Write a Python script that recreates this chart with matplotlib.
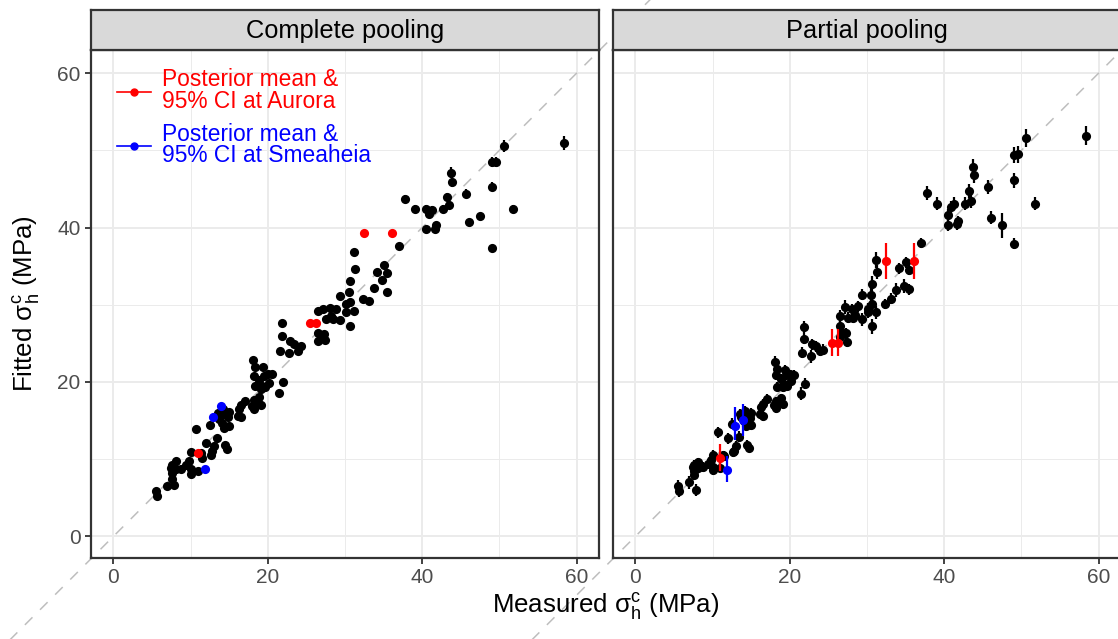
import matplotlib
matplotlib.use("Agg")
import matplotlib.pyplot as plt
from matplotlib.lines import Line2D
import numpy as np

plt.rcParams["font.family"] = ["Liberation Sans", "DejaVu Sans"]
plt.rcParams["mathtext.fontset"] = "custom"
plt.rcParams["mathtext.rm"] = "Liberation Sans"
plt.rcParams["mathtext.it"] = "Liberation Sans"

# measured vs fitted sigma_h^c (MPa), all other sites
measured = [58.4, 50.6, 49.1, 49.6, 43.7, 43.8, 49.0, 45.7, 37.8, 43.2,
            43.5, 42.7, 39.1, 40.5, 41.3, 40.9, 51.8, 47.5, 46.1, 40.5,
            41.6, 41.8, 49.1, 37.0, 31.2, 31.3, 35.0, 34.2, 35.5, 34.8,
            30.7, 33.8, 35.5, 30.5, 29.3, 32.3, 33.1, 30.7, 30.1, 28.8,
            28.0, 27.1, 26.5, 31.2, 30.1, 28.2, 27.5, 29.4, 28.5, 30.6,
            21.8, 26.5, 27.3, 26.5, 27.4, 26.9, 21.8, 22.9, 23.4, 24.3,
            23.9, 22.7, 21.6, 18.1, 18.4, 19.4, 20.0, 20.6, 19.5, 18.9,
            20.2, 19.3, 18.2, 18.4, 19.7, 19.1, 22.0, 21.5, 17.1, 16.5,
            16.3, 16.1, 16.5, 18.9, 18.2, 18.7, 19.1, 18.0, 18.2, 15.0,
            14.3, 13.7, 14.8, 14.1, 15.0, 14.3, 13.5, 14.2, 12.5, 10.7,
            13.4, 12.0, 13.0, 12.8, 12.6, 14.5, 14.7, 10.0, 11.3, 11.5,
            9.8, 9.4, 8.1, 7.6, 7.4, 8.1, 8.7, 10.0, 7.6, 10.0,
            10.9, 7.6, 7.0, 7.8, 5.5, 5.6]
fitted_complete = [50.9, 50.6, 48.5, 48.5, 47.1, 45.9, 45.3, 44.4, 43.7, 44.0,
                   42.9, 42.4, 42.4, 42.4, 42.3, 41.7, 42.4, 41.5, 40.7, 39.8,
                   39.8, 40.3, 37.4, 37.6, 36.8, 34.6, 35.1, 34.3, 34.1, 33.2,
                   33.1, 32.2, 31.7, 31.6, 31.1, 30.7, 30.5, 30.3, 30.1, 29.5,
                   29.6, 29.5, 29.2, 29.2, 29.1, 28.6, 28.1, 28.0, 28.2, 27.3,
                   27.6, 26.4, 26.2, 25.3, 25.4, 25.9, 26.0, 25.3, 24.9, 24.7,
                   24.0, 23.7, 24.0, 22.8, 21.9, 21.9, 21.0, 21.0, 20.8, 20.3,
                   19.9, 19.5, 20.8, 19.5, 19.3, 19.1, 20.0, 18.6, 17.6, 17.0,
                   16.5, 15.6, 15.4, 18.0, 17.7, 17.3, 17.0, 16.9, 16.5, 16.1,
                   15.8, 15.2, 15.4, 14.7, 14.3, 14.1, 16.0, 16.5, 14.4, 13.9,
                   12.7, 12.1, 11.7, 11.0, 10.6, 11.8, 11.3, 10.9, 10.8, 10.2,
                   9.8, 9.3, 9.8, 9.3, 8.9, 8.7, 8.7, 8.7, 8.2, 8.1,
                   8.5, 7.4, 6.5, 6.7, 5.9, 5.2]
err_complete = [0.9, 0.8, 0.7, 0.7, 0.7, 0.6, 0.6, 0.6, 0.5, 0.5,
                0.5, 0.5, 0.5, 0.5, 0.5, 0.5, 0.5, 0.4, 0.4, 0.4,
                0.4, 0.4, 0.4, 0.3, 0.3, 0.3, 0.3, 0.3, 0.3, 0.3,
                0.3, 0.3, 0.3, 0.3, 0.3, 0.3, 0.3, 0.3, 0.3, 0.3,
                0.3, 0.3, 0.3, 0.3, 0.3, 0.3, 0.3, 0.3, 0.3, 0.3,
                0.3, 0.3, 0.3, 0.3, 0.3, 0.3, 0.3, 0.3, 0.3, 0.3,
                0.3, 0.3, 0.3, 0.3, 0.3, 0.3, 0.3, 0.3, 0.3, 0.3,
                0.3, 0.3, 0.3, 0.3, 0.3, 0.3, 0.3, 0.3, 0.3, 0.3,
                0.3, 0.3, 0.3, 0.3, 0.3, 0.3, 0.3, 0.3, 0.3, 0.3,
                0.3, 0.3, 0.3, 0.3, 0.3, 0.3, 0.3, 0.3, 0.3, 0.3,
                0.3, 0.3, 0.3, 0.3, 0.3, 0.3, 0.3, 0.3, 0.3, 0.3,
                0.3, 0.3, 0.3, 0.3, 0.3, 0.3, 0.3, 0.3, 0.3, 0.3,
                0.3, 0.3, 0.3, 0.3, 0.3, 0.3]
fitted_partial = [51.9, 51.6, 49.4, 49.5, 47.9, 46.8, 46.1, 45.2, 44.5, 44.7,
                  43.4, 43.1, 43.1, 41.6, 43.1, 42.6, 43.1, 40.3, 41.3, 40.3,
                  40.4, 40.8, 37.9, 38.0, 35.8, 34.2, 35.5, 34.7, 34.5, 32.4,
                  32.7, 31.9, 32.0, 31.3, 31.3, 30.1, 30.8, 30.1, 29.4, 29.8,
                  29.4, 29.7, 28.5, 29.0, 29.0, 28.3, 28.3, 28.1, 28.7, 27.2,
                  27.1, 27.2, 26.3, 25.8, 25.2, 26.3, 25.6, 24.9, 24.6, 24.2,
                  24.0, 23.3, 23.8, 22.6, 21.7, 21.6, 21.0, 20.9, 20.9, 20.4,
                  20.1, 19.7, 20.9, 19.4, 19.5, 19.3, 19.8, 18.5, 17.8, 17.2,
                  16.8, 15.9, 15.6, 17.9, 17.5, 17.4, 17.1, 17.0, 16.6, 16.0,
                  15.6, 15.4, 15.3, 14.9, 14.4, 14.3, 15.9, 16.3, 14.6, 13.5,
                  12.9, 12.7, 11.7, 11.1, 10.9, 11.9, 11.5, 10.6, 10.5, 10.4,
                  9.9, 9.4, 9.6, 9.3, 9.0, 8.9, 9.0, 9.0, 8.5, 8.6,
                  8.9, 7.9, 7.0, 6.0, 6.5, 5.9]
err_partial = [1.2, 1.2, 1.1, 1.1, 1.0, 1.0, 1.0, 0.9, 0.9, 0.9,
               0.9, 0.8, 0.8, 0.8, 0.8, 0.8, 0.8, 1.6, 0.8, 0.7,
               0.7, 0.7, 0.7, 0.7, 1.0, 0.9, 0.7, 0.7, 0.7, 0.9,
               1.0, 0.9, 0.7, 0.9, 0.7, 0.7, 0.7, 1.0, 0.8, 0.7,
               0.7, 0.9, 0.8, 0.9, 0.7, 0.7, 0.7, 0.8, 0.7, 1.0,
               0.8, 0.8, 0.7, 0.7, 0.7, 0.7, 0.7, 0.7, 0.7, 0.7,
               0.7, 0.8, 0.7, 0.7, 0.6, 0.6, 0.6, 0.6, 0.6, 0.6,
               0.6, 0.6, 0.6, 0.6, 0.6, 0.6, 0.7, 0.8, 0.6, 0.6,
               0.6, 0.7, 0.6, 0.6, 0.6, 0.6, 0.6, 0.6, 0.6, 0.6,
               0.6, 0.6, 0.6, 0.6, 0.6, 0.6, 0.6, 0.6, 0.7, 0.7,
               0.7, 0.7, 0.6, 0.6, 0.6, 0.6, 0.6, 0.6, 0.6, 0.6,
               0.6, 0.6, 0.6, 0.6, 0.6, 0.6, 0.6, 0.6, 0.6, 0.6,
               0.6, 0.6, 0.8, 0.8, 0.8, 0.8]

# Aurora
aurora_measured = [32.5, 36.1, 25.5, 26.3, 10.9]
aurora_complete = [39.3, 39.3, 27.6, 27.6, 10.8]
aurora_partial = [35.7, 35.7, 25.1, 25.1, 10.2]
aurora_partial_lo = [33.3, 33.3, 23.4, 23.4, 8.5]
aurora_partial_hi = [38.0, 38.0, 26.8, 26.8, 12.0]

# Smeaheia
smeaheia_measured = [13.9, 12.9, 11.9]
smeaheia_complete = [16.9, 15.4, 8.7]
smeaheia_partial = [15.1, 14.3, 8.6]
smeaheia_partial_lo = [13.0, 12.5, 7.0]
smeaheia_partial_hi = [17.1, 16.8, 10.4]

panel_titles = ["Complete pooling", "Partial pooling"]
ticks = [0, 20, 40, 60]

W, H = 1118, 639
fig = plt.figure(figsize=(W / 100, H / 100), dpi=100)
fig.patch.set_facecolor("white")

panel_w = 508 / W
panel_h = 508 / H
bottom = (H - 558) / H
lefts = [91 / W, 613 / W]
strip_h = 40 / H

axes = []
for left in lefts:
    axes.append(fig.add_axes([left, bottom, panel_w, panel_h]))

panels = [
    (fitted_complete, err_complete, aurora_complete, None, None,
     smeaheia_complete, None, None),
    (fitted_partial, err_partial, aurora_partial, aurora_partial_lo, aurora_partial_hi,
     smeaheia_partial, smeaheia_partial_lo, smeaheia_partial_hi),
]

for i, (ax, p) in enumerate(zip(axes, panels)):
    fit, err, a_fit, a_lo, a_hi, s_fit, s_lo, s_hi = p
    ax.set_xlim(-2.9, 62.9)
    ax.set_ylim(-2.8, 63.0)
    ax.set_xticks(ticks)
    ax.set_yticks(ticks)
    ax.set_xticks([10, 30, 50], minor=True)
    ax.set_yticks([10, 30, 50], minor=True)
    ax.grid(True, which="major", color="#EBEBEB", lw=1.4, zorder=0)
    ax.grid(True, which="minor", color="#EBEBEB", lw=0.7, zorder=0)
    ax.set_axisbelow(True)
    ax.tick_params(which="minor", length=0)
    ax.tick_params(which="major", length=4.5, width=1.3, color="#333333",
                   labelsize=15, labelcolor="#4D4D4D", pad=3)
    for s in ax.spines.values():
        s.set_color("#333333")
        s.set_linewidth(1.6)
        s.set_zorder(5)

    # 1:1 line, extends beyond the panel
    ax.plot([-20, 80], [-20, 80], color="#BEBEBE", lw=1.1, dashes=(7, 7),
            clip_on=False, zorder=1)

    ax.errorbar(measured, fit, yerr=err, fmt="o", color="black", ms=6.6,
                mew=0, elinewidth=1.6, capsize=0, zorder=3)
    if a_lo is None:
        a_err = None
        s_err = None
    else:
        a_err = [np.subtract(a_fit, a_lo), np.subtract(a_hi, a_fit)]
        s_err = [np.subtract(s_fit, s_lo), np.subtract(s_hi, s_fit)]
    ax.errorbar(aurora_measured, a_fit, yerr=a_err, fmt="o", color="red", ms=6.6,
                mew=0, elinewidth=1.6, capsize=0, zorder=4)
    ax.errorbar(smeaheia_measured, s_fit, yerr=s_err, fmt="o", color="blue", ms=6.6,
                mew=0, elinewidth=1.6, capsize=0, zorder=4)

    if i == 1:
        ax.tick_params(axis="y", left=False, labelleft=False)

    # facet strip
    sax = fig.add_axes([lefts[i], bottom + panel_h, panel_w, strip_h])
    sax.set_facecolor("#D9D9D9")
    sax.set_xticks([])
    sax.set_yticks([])
    for s in sax.spines.values():
        s.set_color("#333333")
        s.set_linewidth(1.6)
    sax.text(0.5, 0.47, panel_titles[i], transform=sax.transAxes,
             ha="center", va="center", fontsize=18.3, color="black")

handles = [
    Line2D([], [], color="red", marker="o", ms=5, lw=1.2),
    Line2D([], [], color="blue", marker="o", ms=5, lw=1.2),
]
labels = ["Posterior mean &\n95% CI at Aurora",
          "Posterior mean &\n95% CI at Smeaheia"]
leg = axes[0].legend(handles, labels, loc="upper left",
                     bbox_to_anchor=(0.02, 0.995), frameon=False,
                     fontsize=16.4, handlelength=1.5, handletextpad=0.45,
                     labelspacing=0.45, borderpad=0.2, labelcolor="linecolor")
for t in leg.get_texts():
    t.set_linespacing(0.9)

fig.text(606 / W, (H - 607) / H, r"Measured $\mathregular{\sigma_h^c}$ (MPa)",
         ha="center", va="center", fontsize=18.6)
fig.text(27 / W, (H - 304) / H, r"Fitted $\mathregular{\sigma_h^c}$ (MPa)",
         ha="center", va="center", rotation=90, fontsize=18.6)

fig.savefig("out.png", dpi=100)
plt.close(fig)
